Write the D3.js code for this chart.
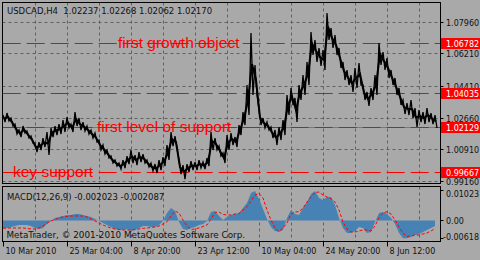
<!DOCTYPE html>
<html>
<head>
<meta charset="utf-8">
<script src="https://cdn.jsdelivr.net/npm/d3@7"></script>
<style>
  body { margin: 0; background: #a9a9a9; }
  svg { display: block; font-family: "DejaVu Sans", sans-serif; }
</style>
</head>
<body>
<div id="chart"></div>
<script>
// USDCAD H4, one sample every 4 bars (high / low)
var priceHigh = [1.02833, 1.02944, 1.02668, 1.02336, 1.02004, 1.02225, 1.01949, 1.01672, 1.01285, 1.01340,
  1.01562, 1.01893, 1.02115, 1.02225, 1.02336, 1.02557, 1.02723, 1.02336, 1.02999, 1.02668,
  1.02446, 1.02225, 1.02004, 1.01838, 1.01451, 1.01174, 1.00898, 1.00566, 1.00345, 1.00179,
  1.00345, 1.00566, 1.00898, 1.00621, 1.00787, 1.00677, 1.00345, 1.00179, 1.00124, 1.00345,
  1.00511, 1.01174, 1.01893, 1.01672, 1.00345, 1.00068, 1.00124, 1.00290, 1.00234, 1.00345,
  1.00234, 1.00456, 1.01893, 1.01562, 1.01119, 1.00732, 1.01727, 1.01838, 1.01617, 1.02280,
  1.02999, 1.04492, 1.07368, 1.05598, 1.03110, 1.02668, 1.02446, 1.02170, 1.02004, 1.02170,
  1.02557, 1.03939, 1.04327, 1.03774, 1.04492, 1.05045, 1.05764, 1.07423, 1.06981, 1.06539,
  1.06428, 1.08474, 1.07645, 1.07257, 1.06539, 1.05764, 1.05322, 1.05045, 1.05433, 1.05709,
  1.04492, 1.04105, 1.04327, 1.05045, 1.06815, 1.06317, 1.05986, 1.05322, 1.04880, 1.04327,
  1.03663, 1.03497, 1.03663, 1.03221, 1.03110, 1.02999, 1.03221, 1.02944, 1.02833];

var priceLow = [1.02446, 1.02502, 1.02225, 1.01783, 1.01617, 1.01838, 1.01562, 1.01285, 1.00787, 1.00898,
  1.01064, 1.00621, 1.01617, 1.01727, 1.01783, 1.01893, 1.02115, 1.01893, 1.02225, 1.02004,
  1.01949, 1.01783, 1.01562, 1.01340, 1.00898, 1.00677, 1.00456, 1.00179, 1.00013, 0.99847,
  0.99903, 1.00124, 1.00179, 1.00068, 1.00234, 1.00179, 0.99958, 0.99737, 0.99626, 0.99792,
  1.00013, 1.00345, 1.01119, 1.01009, 0.99571, 0.99294, 0.99681, 0.99792, 0.99792, 0.99903,
  0.99847, 1.00013, 1.00898, 1.00898, 1.00566, 1.00179, 1.00898, 1.01174, 1.01064, 1.01727,
  1.02280, 1.02833, 1.03939, 1.03939, 1.02280, 1.02115, 1.02004, 1.01562, 1.01174, 1.01451,
  1.01727, 1.02833, 1.03386, 1.02446, 1.03663, 1.03939, 1.04492, 1.06151, 1.05764, 1.05543,
  1.05322, 1.06981, 1.06539, 1.06151, 1.05433, 1.04769, 1.04492, 1.04105, 1.04327, 1.04492,
  1.03663, 1.03331, 1.03663, 1.03939, 1.05598, 1.05322, 1.04880, 1.04492, 1.03939, 1.03386,
  1.02889, 1.02833, 1.02668, 1.02170, 1.02446, 1.02336, 1.02446, 1.02336, 1.02115];

var macdMain = [-0.00260, -0.00260, -0.00225, -0.00191, -0.00156, -0.00156, -0.00156, -0.00191, -0.00260, -0.00295,
  -0.00260, -0.00121, -0.00017, 0.00087, 0.00121, 0.00156, 0.00191, 0.00191, 0.00225, 0.00225,
  0.00191, 0.00156, 0.00121, 0.00052, -0.00017, -0.00087, -0.00156, -0.00225, -0.00295, -0.00329,
  -0.00329, -0.00295, -0.00364, -0.00329, -0.00260, -0.00191, -0.00191, -0.00225, -0.00225, -0.00156,
  -0.00017, 0.00260, 0.00433, 0.00329, -0.00052, -0.00295, -0.00329, -0.00260, -0.00225, -0.00156,
  -0.00121, -0.00017, 0.00295, 0.00329, 0.00156, 0.00017, 0.00121, 0.00191, 0.00225, 0.00260,
  0.00433, 0.00607, 0.00953, 0.01023, 0.00745, 0.00399, 0.00052, -0.00225, -0.00364, -0.00399,
  -0.00329, 0.00087, 0.00364, 0.00225, 0.00191, 0.00433, 0.00641, 0.00919, 0.01023, 0.00780,
  0.00711, 0.00815, 0.00815, 0.00537, 0.00087, -0.00260, -0.00433, -0.00433, -0.00364, -0.00225,
  -0.00260, -0.00433, -0.00399, -0.00052, 0.00260, 0.00295, 0.00225, 0.00087, -0.00121, -0.00433,
  -0.00618, -0.00618, -0.00572, -0.00503, -0.00468, -0.00399, -0.00329, -0.00260, -0.00191];

var macdSignal = [-0.00270, -0.00260, -0.00260, -0.00260, -0.00260, -0.00260, -0.00277, -0.00295, -0.00295, -0.00260,
  -0.00191, -0.00087, -0.00017, 0.00035, 0.00087, 0.00121, 0.00139, 0.00156, 0.00156, 0.00156,
  0.00156, 0.00121, 0.00052, -0.00017, -0.00087, -0.00156, -0.00215, -0.00260, -0.00295, -0.00312,
  -0.00329, -0.00329, -0.00329, -0.00312, -0.00295, -0.00270, -0.00260, -0.00243, -0.00225, -0.00191,
  -0.00121, -0.00042, 0.00156, 0.00329, 0.00260, 0.00017, -0.00191, -0.00312, -0.00295, -0.00260,
  -0.00208, -0.00156, 0.00052, 0.00277, 0.00295, 0.00208, 0.00191, 0.00191, 0.00225, 0.00243,
  0.00364, 0.00478, 0.00676, 0.00884, 0.00936, 0.00780, 0.00364, 0.00017, -0.00260, -0.00381,
  -0.00260, -0.00087, 0.00225, 0.00295, 0.00305, 0.00433, 0.00641, 0.00815, 0.00971, 0.00988,
  0.00884, 0.00815, 0.00763, 0.00641, 0.00364, -0.00052, -0.00295, -0.00399, -0.00399, -0.00364,
  -0.00329, -0.00329, -0.00364, -0.00191, 0.00087, 0.00260, 0.00305, 0.00225, 0.00017, -0.00225,
  -0.00433, -0.00555, -0.00537, -0.00503, -0.00503, -0.00468, -0.00433, -0.00364, -0.00277];

var timeTickBars = [0, 64, 128, 192, 256, 320, 384];
var timeTickLabels = ["10 Mar 2010", "25 Mar 04:00", "8 Apr 20:00", "23 Apr 12:00",
  "10 May 04:00", "24 May 20:00", "8 Jun 12:00"];
var priceTicks = [1.07960, 1.06210, 1.04410, 1.02660, 1.00910, 0.99160];
var macdTicks = [0.01023, 0, -0.00618];
var levelPrices = [1.06782, 1.04035, 1.02129, 0.99667];
var levelNotes = ["first growth object", "", "first level of support", "key support"];
var lastBid = 1.02170;
var titleText = "USDCAD,H4  1.02237 1.02268 1.02062 1.02170";
var macdTitle = "MACD(12,26,9) -0.002023 -0.002087";
var copyright = "MetaTrader, \u00a9 2001-2010 MetaQuotes Software Corp.";

var svgWidth = 480;
var svgHeight = 260;
var barStep = 4;
var left = 2.5, right = 440.5;
var mainTop = 2.5, mainBottom = 183.5;
var macdTop = 186.5, macdBottom = 241.5;
var gridColor = "#606060";

var svg = d3.select("#chart").append("svg")
  .attr("width", svgWidth)
  .attr("height", svgHeight);

svg.append("rect").attr("width", svgWidth).attr("height", svgHeight).attr("fill", "#a9a9a9");

var x = d3.scaleLinear().domain([0, 437]).range([3, 440]);
var y = d3.scaleLinear().domain([0.99048, 1.09082]).range([183.5, 2]);
var ym = d3.scaleLinear().domain([-0.00729, 0.01179]).range([241.5, 186.5]);

var bars = priceHigh.map((d, i) => i * barStep);

svg.append("clipPath").attr("id", "mainClip")
  .append("rect").attr("x", left).attr("y", mainTop).attr("width", right - left).attr("height", mainBottom - mainTop);
svg.append("clipPath").attr("id", "macdClip")
  .append("rect").attr("x", left).attr("y", macdTop).attr("width", right - left).attr("height", macdBottom - macdTop);

// grid
var gridBars = d3.range(32, 437, 32);
var grid = svg.append("g")
  .attr("stroke", gridColor)
  .attr("stroke-dasharray", "3,3");

gridBars.forEach(function(b) {
  var gx = Math.round(x(b)) + 0.5;
  grid.append("line").attr("x1", gx).attr("x2", gx).attr("y1", mainTop).attr("y2", mainBottom);
  grid.append("line").attr("x1", gx).attr("x2", gx).attr("y1", macdTop).attr("y2", macdBottom);
});
priceTicks.forEach(function(p) {
  var gy = Math.floor(y(p)) + 0.5;
  grid.append("line").attr("x1", left).attr("x2", right).attr("y1", gy).attr("y2", gy);
});

var main = svg.append("g").attr("clip-path", "url(#mainClip)");

// bid line
var bidY = Math.floor(y(lastBid)) + 0.5;
main.append("line")
  .attr("x1", left).attr("x2", right)
  .attr("y1", bidY).attr("y2", bidY)
  .attr("stroke", "#7a7a7a");

// level lines
levelPrices.forEach(function(p) {
  var ly = Math.floor(y(p)) + 0.5;
  main.append("line")
    .attr("x1", 2.7).attr("x2", right)
    .attr("y1", ly).attr("y2", ly)
    .attr("stroke", "#ff0000")
    .attr("stroke-dasharray", "18,6");
});

// price bars: zigzag high -> low for each sample, gives the dense bar texture
var zig = [];
priceHigh.forEach(function(h, i) {
  zig.push([x(bars[i]), y(h)]);
  zig.push([x(bars[i] + 2), y(priceLow[i])]);
});

main.append("path")
  .attr("d", d3.line()(zig))
  .attr("fill", "none")
  .attr("stroke", "#000")
  .attr("stroke-width", 1.3);

var mid = d3.line()
  .x((d, i) => x(bars[i] + 1))
  .y((d, i) => y((d + priceLow[i]) / 2));

main.append("path")
  .datum(priceHigh)
  .attr("d", mid)
  .attr("fill", "none")
  .attr("stroke", "#000")
  .attr("stroke-width", 2);

// level notes
var noteBars = [115, 0, 94, 10];
levelPrices.forEach(function(p, i) {
  if (!levelNotes[i]) return;
  main.append("text")
    .attr("x", x(noteBars[i]))
    .attr("y", Math.floor(y(p)) + 4.5)
    .attr("fill", "#ff0000")
    .style("font-family", "'Liberation Sans', Arial, sans-serif")
    .style("font-size", "15.5px")
    .text(levelNotes[i]);
});

// title
svg.append("text")
  .attr("x", 7).attr("y", 14)
  .attr("xml:space", "preserve")
  .style("font-size", "8.5px")
  .attr("fill", "#111")
  .text(titleText);

// MACD
var macd = svg.append("g").attr("clip-path", "url(#macdClip)");

var hist = d3.area()
  .x((d, i) => x(bars[i]))
  .y0(ym(0))
  .y1(d => ym(d));

macd.append("path")
  .datum(macdMain)
  .attr("d", hist)
  .attr("fill", "#4682b4");

var signalLine = d3.line()
  .x((d, i) => x(bars[i]))
  .y(d => ym(d));

macd.append("path")
  .datum(macdSignal)
  .attr("d", signalLine)
  .attr("fill", "none")
  .attr("stroke", "#ff0000")
  .attr("stroke-dasharray", "3,2");

svg.append("text")
  .attr("x", 7).attr("y", 200)
  .style("font-size", "8.5px")
  .attr("fill", "#111")
  .text(macdTitle);

svg.append("text")
  .attr("x", 6.5).attr("y", 238.3)
  .style("font-size", "8.8px")
  .attr("fill", "#111")
  .text(copyright);

// panel borders
svg.append("rect")
  .attr("x", left).attr("y", mainTop)
  .attr("width", right - left).attr("height", mainBottom - mainTop)
  .attr("fill", "none").attr("stroke", "#000");
svg.append("rect")
  .attr("x", left).attr("y", macdTop)
  .attr("width", right - left).attr("height", macdBottom - macdTop)
  .attr("fill", "none").attr("stroke", "#000");

// price scale
var axisR = svg.append("g");
priceTicks.forEach(function(p) {
  var ty = Math.floor(y(p)) + 0.5;
  axisR.append("line").attr("x1", right).attr("x2", right + 3).attr("y1", ty).attr("y2", ty).attr("stroke", "#000");
  axisR.append("text")
    .attr("x", 446).attr("y", ty + 3)
    .style("font-size", "8px")
    .attr("fill", "#111")
    .text(p.toFixed(5));
});

levelPrices.forEach(function(p) {
  var ly = Math.floor(y(p)) + 0.5;
  axisR.append("rect")
    .attr("x", 441).attr("y", ly - 5.5)
    .attr("width", 39).attr("height", 11)
    .attr("fill", "#ff0000");
  axisR.append("text")
    .attr("x", 446).attr("y", ly + 3)
    .style("font-size", "8px")
    .attr("fill", "#fff")
    .text(p.toFixed(5));
});

var macdNudge = [3, 0, -2];
macdTicks.forEach(function(v, i) {
  var ty = Math.floor(ym(v)) + 0.5;
  axisR.append("line").attr("x1", right).attr("x2", right + 3).attr("y1", ty).attr("y2", ty).attr("stroke", "#000");
  axisR.append("text")
    .attr("x", v < 0 ? 443 : 446).attr("y", ty + 3 + macdNudge[i])
    .style("font-size", "8px")
    .attr("fill", "#111")
    .text(v === 0 ? "0.00" : v.toFixed(5));
});

// time scale
timeTickBars.forEach(function(b, i) {
  var tx = Math.round(x(b)) + 0.5;
  svg.append("line")
    .attr("x1", tx).attr("x2", tx)
    .attr("y1", macdBottom).attr("y2", macdBottom + 5)
    .attr("stroke", "#000");
  svg.append("text")
    .attr("x", tx + 2).attr("y", 254)
    .style("font-size", "8px")
    .attr("fill", "#111")
    .text(timeTickLabels[i]);
});
</script>
</body>
</html>
